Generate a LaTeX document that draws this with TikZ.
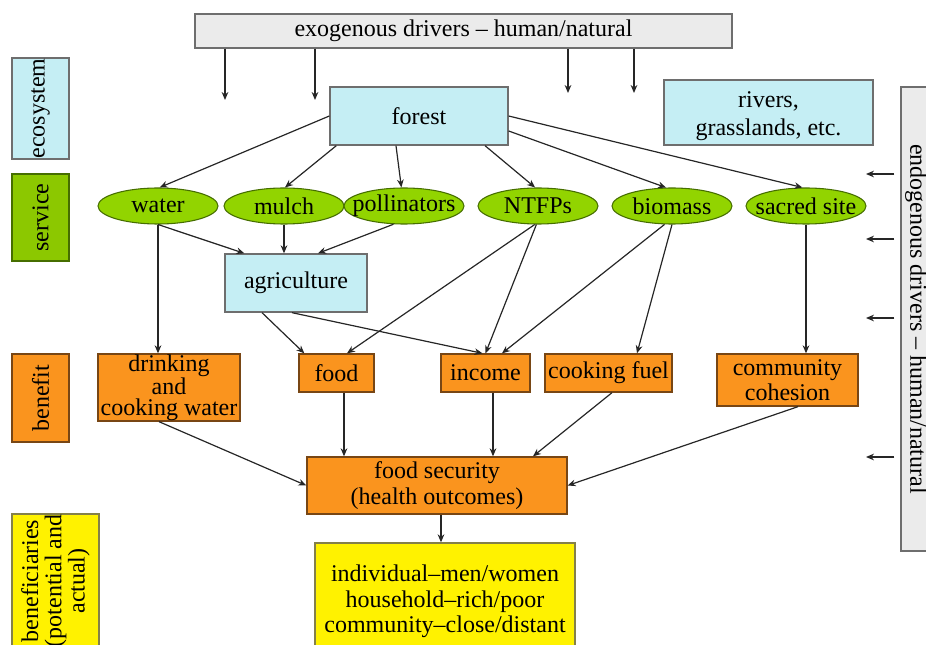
\documentclass[tikz,border=0pt]{standalone}
\usepackage{fontspec}
\setmainfont{Liberation Serif}
\usetikzlibrary{arrows.meta,calc,shapes.geometric}

\definecolor{skyfill}{RGB}{197,238,244}
\definecolor{greyfill}{RGB}{235,235,235}
\definecolor{leaffill}{RGB}{146,212,0}
\definecolor{leafdark}{RGB}{140,200,0}
\definecolor{leafline}{RGB}{70,110,0}
\definecolor{orangefill}{RGB}{250,148,30}
\definecolor{orangeline}{RGB}{120,70,20}
\definecolor{boxline}{RGB}{110,110,110}

\begin{document}
\begin{tikzpicture}
  [x=0.75pt,y=-0.75pt,
   every node/.style={inner sep=0pt,align=center,font=\fontsize{18}{19}\selectfont},
   eco/.style={rectangle,fill=skyfill,draw=boxline,line width=1pt},
   driver/.style={rectangle,fill=greyfill,draw=boxline,line width=1pt},
   serv/.style={ellipse,fill=leaffill,draw=leafline,line width=0.8pt,inner xsep=-8pt,minimum width=90pt,minimum height=27pt},
   bene/.style={rectangle,fill=orangefill,draw=orangeline,line width=1pt},
   who/.style={rectangle,fill=yellow,draw=yellow!45!black,line width=1pt},
   link/.style={every edge/.style={draw=black!85,line width=0.9pt,-{Stealth[length=6pt,width=5pt]}}}]
  \path[use as bounding box,clip] (0,0) rectangle (926,645);

  % side labels
  \node[eco,rotate=90,minimum width=75.75pt,minimum height=42.75pt] (ecolab) at (40.5,108.5) {ecosystem};
  \node[rectangle,fill=leafdark,draw=leafline,line width=1pt,rotate=90,minimum width=65.25pt,minimum height=42.75pt] (servlab) at (40.5,217.5) {service};
  \node[bene,rotate=90,minimum width=66pt,minimum height=42.75pt] (benlab) at (40.5,398) {benefit};
  \node[who,rotate=90,minimum width=100.5pt,minimum height=65.25pt,font=\fontsize{18}{17.5}\selectfont] (wholab) at (55.5,581) {beneficiaries\\(potential and\\actual)};

  % drivers
  \node[driver,minimum width=402.75pt,minimum height=25.5pt] (exo) at (463.5,31) {exogenous drivers -- human/natural};
  \node[driver,rotate=-90,minimum width=348pt,minimum height=22.5pt] (endo) at (916,319) {endogenous drivers -- human/natural};

  % ecosystem
  \node[eco,minimum width=133.5pt,minimum height=43.5pt] (forest) at (419,116) {forest};
  \node[eco,minimum width=156.75pt,minimum height=48.75pt] (rivers) at (768.5,112.5) {\rule{0pt}{18pt}rivers,\\[2pt]grasslands, etc.};

  % services
  \node[serv] (water) at (158,206) {water};
  \node[serv] (mulch) at (284,206) {mulch};
  \node[serv] (pollinators) at (404,206) {pollinators};
  \node[serv] (ntfps) at (538,206) {NTFPs};
  \node[serv] (biomass) at (672,206) {biomass};
  \node[serv] (sacred) at (806,206) {sacred site};
  \node[eco,minimum width=106.5pt,minimum height=43.5pt] (agri) at (296,283) {agriculture};

  % benefits
  \node[bene,minimum width=106.5pt,minimum height=50.25pt,font=\fontsize{18}{15.5}\selectfont] (drink) at (169,387.5) {drinking\\and\\cooking water};
  \node[bene,minimum width=56.25pt,minimum height=28.5pt] (food) at (336.5,373) {food};
  \node[bene,minimum width=66.75pt,minimum height=28.5pt] (income) at (485.5,373) {income};
  \node[bene,minimum width=95.25pt,minimum height=28.5pt] (fuel) at (608.5,373) {cooking fuel};
  \node[bene,minimum width=105.75pt,minimum height=39pt] (cohesion) at (787.5,380) {community\\cohesion};
  \node[bene,minimum width=195pt,minimum height=42.75pt] (foodsec) at (437,485.5) {food security\\(health outcomes)};
  \node[who,minimum width=195pt,minimum height=87.75pt] (people) at (445,601.5) {individual--men/women\\household--rich/poor\\community--close/distant};

  % loose arrow ends
  \coordinate (x1) at (225,100);
  \coordinate (x2) at (315,100);
  \coordinate (x3) at (568,93);
  \coordinate (x4) at (634,93);
  \coordinate (n1) at (866,174);
  \coordinate (n2) at (866,239);
  \coordinate (n3) at (866,318);
  \coordinate (n4) at (866,457);

  \path[link]
        (exo.south -| x1) edge (x1)
        (exo.south -| x2) edge (x2)
        (exo.south -| x3) edge (x3)
        (exo.south -| x4) edge (x4)
        ($(endo.south |- n1)+(-6,0)$) edge (n1)
        ($(endo.south |- n2)+(-6,0)$) edge (n2)
        ($(endo.south |- n3)+(-6,0)$) edge (n3)
        ($(endo.south |- n4)+(-6,0)$) edge (n4);

  \path[link]
        (forest.west) edge (water.85)
        ($(forest.south west)+(7,0)$) edge (mulch.87)
        ($(forest.south)+(-23,0)$) edge (pollinators.98)
        ($(forest.south)+(66,0)$) edge (ntfps.99)
        ($(forest.east)+(0,15)$) edge (biomass.108)
        (forest.east) edge (sacred.101)
        (water.south) edge ($(agri.north west)+(20,0)$)
        (mulch.south) edge (mulch.south |- agri.north)
        (pollinators.240) edge ($(agri.north)+(22,0)$)
        (water.south) edge (water.south |- drink.north)
        ($(agri.south)+(-34,0)$) edge ($(food.north west)+(6,0)$)
        ($(agri.south)+(-4,0)$) edge ($(income.north)+(-3,0)$)
        (ntfps.260) edge ($(food.north)+(10.5,0)$)
        (ntfps.265) edge (income.north)
        (biomass.248) edge ($(income.north)+(16.5,0)$)
        (biomass.south) edge ($(fuel.north)+(28.5,0)$)
        (sacred.south) edge (sacred.south |- cohesion.north)
        ($(drink.south)+(-10,0)$) edge (foodsec.west)
        ($(food.south)+(7.5,0)$) edge ($(food.south |- foodsec.north)+(7.5,0)$)
        ($(income.south)+(7.5,0)$) edge ($(income.south |- foodsec.north)+(7.5,0)$)
        ($(fuel.south)+(3.5,0)$) edge ($(foodsec.north)+(96,0)$)
        ($(cohesion.south)+(10.5,0)$) edge (foodsec.east)
        ($(foodsec.south)+(4,0)$) edge ($(foodsec.south |- people.north)+(4,0)$);

\end{tikzpicture}
\end{document}
